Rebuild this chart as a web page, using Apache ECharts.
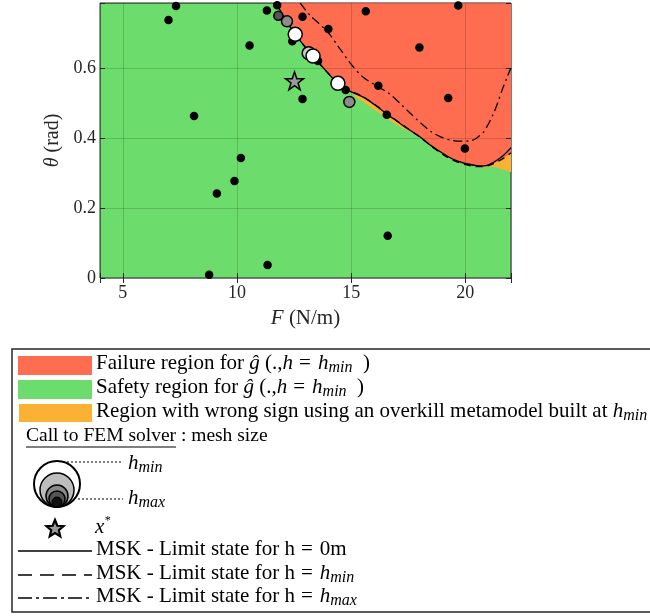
<!DOCTYPE html>
<html>
<head>
<meta charset="utf-8">
<script src="https://cdn.jsdelivr.net/npm/echarts@6/dist/echarts.min.js"></script>
<style>
html, body { margin: 0; padding: 0; background: #fff; }
#main { width: 650px; height: 616px; }
</style>
</head>
<body>
<div id="main"></div>
<script>
var myChart = echarts.init(document.getElementById('main'));

// limit state for h = 0m (solid)
var limit0F =     [11.72, 12.0, 12.55, 13.0, 13.33, 14.0, 14.42, 14.96, 15.55, 16.0, 16.57, 17.0, 17.5, 18.04, 18.5, 19.06, 19.5, 20.0, 20.5, 20.81, 21.1, 21.4, 21.7, 22.0];
var limit0Theta = [0.785, 0.752, 0.696, 0.659, 0.634, 0.584, 0.556, 0.533, 0.516, 0.496, 0.468, 0.448, 0.425, 0.402, 0.378, 0.354, 0.338, 0.327, 0.321, 0.320, 0.326, 0.337, 0.352, 0.372];
// limit state for h = hmin (dashed) = edge of the failure region
var limitMinF =     [11.70, 12.0, 12.55, 13.0, 13.33, 14.0, 14.42, 14.96, 15.55, 16.0, 16.57, 17.0, 17.5, 18.04, 18.5, 19.06, 19.5, 20.0, 20.5, 20.81, 21.1, 21.4, 21.7, 22.0];
var limitMinTheta = [0.785, 0.751, 0.695, 0.658, 0.633, 0.584, 0.557, 0.535, 0.517, 0.497, 0.470, 0.449, 0.426, 0.401, 0.377, 0.351, 0.335, 0.324, 0.318, 0.318, 0.323, 0.332, 0.343, 0.358];
// limit state for h = hmax (dash-dot)
var limitMaxF =     [12.77, 13.2, 13.94, 14.5, 15.04, 15.5, 16.0, 16.64, 17.2, 17.6, 18.04, 18.5, 18.9, 19.35, 19.8, 20.23, 20.5, 20.8, 20.96, 21.2, 21.4, 21.6, 21.84, 22.0];
var limitMaxTheta = [0.785, 0.75, 0.705, 0.655, 0.607, 0.575, 0.553, 0.528, 0.495, 0.47, 0.443, 0.418, 0.404, 0.394, 0.391, 0.392, 0.400, 0.417, 0.434, 0.465, 0.497, 0.535, 0.575, 0.600];
// lower edge of the wrong-sign region
var wrongF =     [14.96, 15.2, 15.55, 16.0, 16.57, 17.0, 17.74, 18.3, 18.91, 19.5, 20.0, 20.3, 20.5, 20.75, 21.0, 21.3, 21.6, 22.0];
var wrongTheta = [0.533, 0.516, 0.502, 0.482, 0.456, 0.437, 0.411, 0.389, 0.367, 0.352, 0.343, 0.334, 0.319, 0.316, 0.318, 0.317, 0.311, 0.302];

// calls to the FEM solver, level 0 = hmin ... 4 = hmax
var callF =     [7.33, 7.0, 11.31, 11.76, 12.87, 10.55, 12.42, 14.0, 15.64, 19.69, 17.99, 16.19, 19.25, 13.55, 14.76, 12.87, 16.56, 19.98, 8.12, 10.17, 9.89, 9.12, 16.6, 11.34, 8.78,
                 11.81, 12.19, 14.92, 13.14, 12.55, 13.33, 14.42];
var callTheta = [0.777, 0.737, 0.764, 0.779, 0.746, 0.664, 0.676, 0.711, 0.762, 0.778, 0.658, 0.549, 0.514, 0.62, 0.537, 0.511, 0.466, 0.37, 0.463, 0.343, 0.277, 0.241, 0.121, 0.037, 0.009,
                 0.749, 0.733, 0.503, 0.642, 0.696, 0.634, 0.556];
var callLevel = [4, 4, 4, 4, 4, 4, 4, 4, 4, 4, 4, 4, 4, 4, 4, 4, 4, 4, 4, 4, 4, 4, 4, 4, 4,
                 3, 2, 2, 1, 0, 0, 0];
var starF = [12.52];
var starTheta = [0.563];

var xTicks = [5, 10, 15, 20];
var yTicks = [0, 0.2, 0.4, 0.6];

var levelColors = ['#ffffff', '#c8c8c8', '#8c8c8c', '#555555', '#000000'];
var levelSizes = [14, 13, 11, 9, 7];
var serif = 'Liberation Serif';
var starD = 'M12,0 L14.9,8.1 L23.4,8.1 L16.5,13.1 L19.1,21.3 L12,16.3 L4.9,21.3 L7.5,13.1 L0.6,8.1 L9.1,8.1 Z';

function zip(a, b) {
	return a.map(function (v, i) { return [v, b[i]]; });
}

// star outline for the legend box
function starPoints(cx, cy, R, r) {
	var pts = [];
	for (var k = 0; k < 10; k++) {
		var a = -Math.PI / 2 + k * Math.PI / 5;
		var rr = k % 2 ? r : R;
		pts.push([cx + rr * Math.cos(a), cy + rr * Math.sin(a)]);
	}
	return pts;
}

var calls = callF.map(function (f, i) {
	var lv = callLevel[i];
	return {
		value: [f, callTheta[i]],
		symbolSize: levelSizes[lv],
		itemStyle: { color: levelColors[lv] }
	};
});

var rich = {
	t: { fontFamily: serif, fontSize: 21, color: '#000', lineHeight: 24 },
	c: { fontFamily: serif, fontSize: 19.5, color: '#000', lineHeight: 24 },
	i: { fontFamily: serif, fontSize: 21, fontStyle: 'italic', color: '#000', lineHeight: 24 },
	e: { fontFamily: serif, fontSize: 21, color: '#000', lineHeight: 24, padding: [0, 7, 0, 6] },
	s: { fontFamily: serif, fontSize: 16, fontStyle: 'italic', color: '#000', lineHeight: 15, verticalAlign: 'bottom' },
	p: { fontFamily: serif, fontSize: 12, fontStyle: 'italic', color: '#000', lineHeight: 12, verticalAlign: 'top' }
};

function legendText(x, y, str) {
	return {
		type: 'text', left: x, top: y - 12,
		style: { text: str, rich: rich, fill: '#000', font: '21px ' + serif }
	};
}

var graphics = [
	{ type: 'rect', shape: { x: 12, y: 349, width: 680, height: 263 }, style: { fill: '#fff', stroke: '#262626', lineWidth: 1.5 }, z: -1 },
	{ type: 'rect', shape: { x: 18, y: 356, width: 74, height: 19 }, style: { fill: '#fe6d50' } },
	{ type: 'rect', shape: { x: 18, y: 380, width: 74, height: 19 }, style: { fill: '#6cdc6c' } },
	{ type: 'rect', shape: { x: 19, y: 404, width: 73, height: 18 }, style: { fill: '#fbb234' } },
	legendText(96, 365, '{t|Failure region for }{i|ĝ}{t| (.,}{i|h}{e|=}{i|h}{s|min}{t|  )}'),
	legendText(96, 389, '{t|Safety region for }{i|ĝ}{t| (.,}{i|h}{e|=}{i|h}{s|min}{t|  )}'),
	legendText(96, 413, '{t|Region with wrong sign using an overkill metamodel built at }{i|h}{s|min}'),
	legendText(26, 438, '{c|Call to FEM solver : mesh size}'),
	{ type: 'line', shape: { x1: 26, y1: 447, x2: 176, y2: 447 }, style: { stroke: '#000', lineWidth: 1 } },
	{ type: 'circle', shape: { cx: 57, cy: 484, r: 23 }, style: { fill: '#fff', stroke: '#000', lineWidth: 2 } },
	{ type: 'circle', shape: { cx: 57, cy: 490, r: 17 }, style: { fill: '#bdbdbd', stroke: '#000', lineWidth: 1.5 } },
	{ type: 'circle', shape: { cx: 57, cy: 496, r: 11 }, style: { fill: '#8a8a8a', stroke: '#000', lineWidth: 1.5 } },
	{ type: 'circle', shape: { cx: 57, cy: 499, r: 8 }, style: { fill: '#555', stroke: '#000', lineWidth: 1.5 } },
	{ type: 'circle', shape: { cx: 57, cy: 502, r: 5 }, style: { fill: '#111', stroke: '#000', lineWidth: 1 } },
	{ type: 'line', shape: { x1: 63, y1: 462, x2: 123, y2: 462 }, style: { stroke: '#000', lineWidth: 1, lineDash: [2, 2] } },
	{ type: 'line', shape: { x1: 78, y1: 499, x2: 123, y2: 499 }, style: { stroke: '#000', lineWidth: 1, lineDash: [2, 2] } },
	legendText(128, 465, '{i|h}{s|min}'),
	legendText(128, 500, '{i|h}{s|max}'),
	{ type: 'polygon', shape: { points: starPoints(55, 529, 9, 4) }, style: { fill: '#9a9a9a', stroke: '#000', lineWidth: 2.2 } },
	legendText(95, 527, '{i|x}{p|*}'),
	{ type: 'line', shape: { x1: 18, y1: 551, x2: 92, y2: 551 }, style: { stroke: '#000', lineWidth: 1.3 } },
	{ type: 'line', shape: { x1: 18, y1: 575, x2: 92, y2: 575 }, style: { stroke: '#000', lineWidth: 1.3, lineDash: [14, 8] } },
	{ type: 'line', shape: { x1: 18, y1: 598, x2: 92, y2: 598 }, style: { stroke: '#000', lineWidth: 1.3, lineDash: [14, 4, 3, 4] } },
	legendText(96, 551, '{t|MSK - Limit state for h}{e|=}{t|0m}'),
	legendText(96, 575, '{t|MSK - Limit state for h}{e|=}{i|h}{s|min}'),
	legendText(96, 598, '{t|MSK - Limit state for h}{e|=}{i|h}{s|max}')
];

var option = {
	animation: false,
	grid: {
		left: 100, right: 139, top: 3, bottom: 338,
		show: true, backgroundColor: '#6cdc6c', borderColor: '#262626', borderWidth: 1
	},
	xAxis: [{
		type: 'value', min: 4, max: 22, splitNumber: 4, z: 5,
		name: '{i|F} (N/m)', nameLocation: 'middle', nameGap: 30,
		nameTextStyle: { fontFamily: serif, fontSize: 21, color: '#262626', rich: { i: { fontFamily: serif, fontSize: 21, fontStyle: 'italic', color: '#262626' } } },
		axisLine: { show: false },
		axisTick: { inside: true, length: 5, lineStyle: { color: '#262626' } },
		axisLabel: {
			fontFamily: serif, fontSize: 18, color: '#262626', margin: 6,
			formatter: function (v) { return xTicks.indexOf(v) >= 0 ? String(v) : ''; }
		},
		splitLine: { show: true, lineStyle: { color: 'rgba(0,0,0,0.15)', width: 1 } }
	}, {
		type: 'value', min: 4, max: 22, splitNumber: 4, position: 'top', z: 5,
		axisLine: { show: false },
		axisTick: { inside: true, length: 5, lineStyle: { color: '#262626' } },
		axisLabel: { show: false },
		splitLine: { show: false }
	}],
	yAxis: [{
		type: 'value', min: 0, max: Math.PI / 4, interval: 0.2, z: 5,
		name: '{i|θ} (rad)', nameLocation: 'middle', nameGap: 27,
		nameTextStyle: { fontFamily: serif, fontSize: 20, color: '#262626', rich: { i: { fontFamily: serif, fontSize: 20, fontStyle: 'italic', color: '#262626' } } },
		axisLine: { show: false },
		axisTick: { inside: true, length: 5, lineStyle: { color: '#262626' } },
		axisLabel: {
			fontFamily: serif, fontSize: 18, color: '#262626', margin: 4,
			formatter: function (v) {
				for (var k = 0; k < yTicks.length; k++) {
					if (Math.abs(v - yTicks[k]) < 1e-6) return String(yTicks[k]);
				}
				return '';
			}
		},
		splitLine: { show: true, lineStyle: { color: 'rgba(0,0,0,0.15)', width: 1 } }
	}, {
		type: 'value', min: 0, max: Math.PI / 4, interval: 0.2, position: 'right', z: 5,
		axisLine: { show: false },
		axisTick: { inside: true, length: 5, lineStyle: { color: '#262626' } },
		axisLabel: { show: false },
		splitLine: { show: false }
	}],
	series: [{
		name: 'wrong sign', type: 'line', z: 2, silent: true,
		data: zip(wrongF, wrongTheta), showSymbol: false,
		lineStyle: { width: 0 },
		areaStyle: { origin: 'end', color: '#fbb234', opacity: 1 }
	}, {
		name: 'failure', type: 'line', z: 3, silent: true,
		data: zip(limitMinF, limitMinTheta), showSymbol: false,
		lineStyle: { width: 0 },
		areaStyle: { origin: 'end', color: '#fe6d50', opacity: 1 }
	}, {
		name: 'h = 0m', type: 'line', z: 6, silent: true,
		data: zip(limit0F, limit0Theta), showSymbol: false, smooth: 0.3,
		lineStyle: { color: '#000', width: 1.3 }
	}, {
		name: 'h = hmin', type: 'line', z: 6, silent: true,
		data: zip(limitMinF, limitMinTheta), showSymbol: false, smooth: 0.3,
		lineStyle: { color: '#000', width: 1.3, type: [7, 5] }
	}, {
		name: 'h = hmax', type: 'line', z: 6, silent: true,
		data: zip(limitMaxF, limitMaxTheta), showSymbol: false, smooth: 0.3,
		lineStyle: { color: '#000', width: 1.3, type: [9, 4, 2, 4] }
	}, {
		name: 'calls', type: 'scatter', z: 7, silent: true,
		data: calls,
		itemStyle: { borderColor: '#000', borderWidth: 1.5, opacity: 1 }
	}, {
		name: 'x*', type: 'scatter', z: 8, silent: true,
		data: zip(starF, starTheta), symbol: 'path://' + starD, symbolSize: 18,
		itemStyle: { color: '#9a9a9a', borderColor: '#000', borderWidth: 1.5, opacity: 1 }
	}],
	graphic: graphics
};
myChart.setOption(option);
</script>
</body>
</html>
